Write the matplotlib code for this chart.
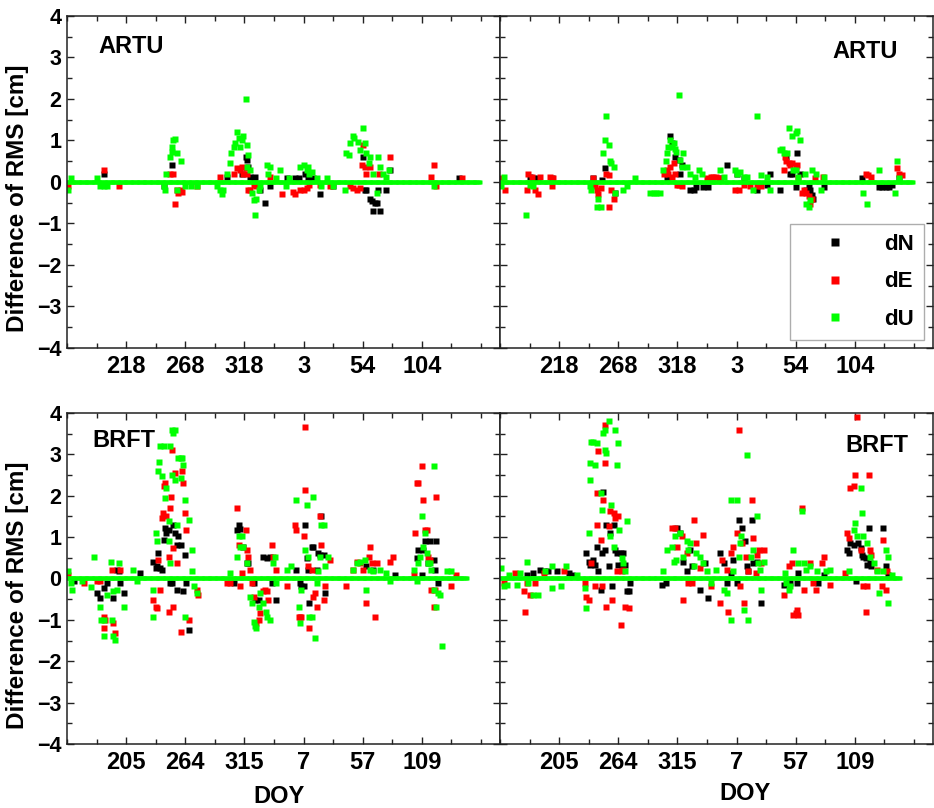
import matplotlib.pyplot as plt
from matplotlib.lines import Line2D
import numpy as np

plt.rcParams['font.family'] = ['Liberation Sans', 'DejaVu Sans']
plt.rcParams['font.weight'] = 'bold'

# x = day counted from start of the campaign, tick labels are the DOY shown
tick_days = [50, 100, 150, 200, 250, 300]
artu_ticks = ['218', '268', '318', '3', '54', '104']
brft_ticks = ['205', '264', '315', '7', '57', '109']

# days with data (value 0 unless listed below)
artu_last_day = 349
brft_last_day = 338

# ARTU, left panel (day, difference in cm)
artu_l_dN = [(31, 0.2), (82, -0.1), (89, 0.4), (135, 0.13), (148, 0.2), (151, 0.6), (152, 0.53),
             (153, 0.37), (155, 0.13), (158, 0.1), (159, 0.13), (163, -0.2), (167, -0.5), (172, -0.1),
             (186, 0.1), (193, 0.1), (196, 0.1), (201, 0.2), (204, 0.1), (208, 0.1), (214, -0.3),
             (225, -0.1), (250, 0.6), (252, -0.2), (253, -0.2), (256, -0.4), (258, -0.45), (259, -0.7),
             (260, -0.5), (262, -0.5), (265, -0.7), (263, -0.2), (270, -0.2), (273, 0.3), (331, 0.1)]
artu_l_dE = [(1, -0.1), (31, 0.3), (44, -0.1), (87, 0.2), (90, 0.2), (91, -0.52), (93, -0.2), (94, -0.27),
             (96, -0.2), (97, -0.23), (110, -0.1), (129, 0.13), (141, 0.2), (144, 0.33), (146, 0.3),
             (148, 0.37), (149, 0.2), (151, 0.33), (152, 0.2), (153, -0.2), (155, -0.2), (158, -0.07),
             (160, -0.1), (172, 0.13), (182, -0.3), (191, -0.23), (193, -0.3), (197, -0.2), (200, -0.2),
             (203, -0.15), (205, -0.07), (214, -0.07), (222, -0.1), (239, -0.1), (242, -0.15), (245, -0.2),
             (248, -0.15), (249, 0.4), (250, 0.9), (252, 0.37), (253, 0.2), (256, 0.37), (264, 0.2),
             (273, 0.6), (308, 0.13), (310, 0.4), (312, -0.1), (334, 0.1)]
artu_l_dU = [(1, -0.2), (3, 0.1), (25, 0.1), (28, -0.1), (31, -0.1), (34, -0.1), (82, -0.1), (83, -0.2),
             (84, 0.2), (87, 0.6), (89, 0.85), (90, 1.0), (91, 1.03), (89, 0.73), (93, 0.7), (96, 0.5),
             (93, -0.2), (100, -0.1), (105, -0.1), (110, -0.1), (127, -0.1), (129, -0.2), (131, -0.3),
             (132, -0.2), (135, 0.2), (138, 0.45), (139, 0.7), (141, 0.85), (142, 0.95), (144, 1.2),
             (145, 1.05), (146, 0.85), (148, 1.0), (149, 1.1), (151, 2.0), (152, 0.9), (153, 0.65),
             (152, 0.37), (155, 0.3), (156, -0.27), (158, -0.43), (159, -0.8), (160, -0.4), (162, -0.2),
             (163, -0.1), (169, 0.4), (172, 0.37), (170, 0.2), (177, 0.1), (180, 0.3), (185, -0.1),
             (188, 0.1), (197, 0.37), (200, 0.4), (203, 0.3), (205, 0.2), (204, 0.37), (207, 0.25),
             (211, 0.1), (215, -0.1), (220, 0.1), (225, -0.1), (235, -0.2), (236, 0.7), (238, 0.65),
             (239, 0.93), (242, 1.1), (243, 1.05), (246, 0.97), (248, 0.77), (250, 1.31), (252, 0.93),
             (253, 0.7), (255, 0.45), (256, 0.6), (259, 0.2), (262, -0.27), (263, 0.6), (265, 0.37),
             (267, 0.2), (270, 0.13), (272, 0.3), (310, -0.1)]

# ARTU, right panel
artu_r_dN = [(25, 0.13), (28, 0.09), (32, 0.09), (44, 0.09), (79, 0.09), (86, 0.05), (89, 0.33),
             (97, -0.27), (141, 0.09), (144, 1.1), (145, 0.93), (148, 0.6), (151, 0.53), (152, 0.2),
             (154, 0.4), (161, -0.2), (164, -0.2), (166, -0.11), (172, -0.11), (176, -0.11), (186, 0.09),
             (192, 0.4), (200, 0.2), (206, 0.09), (217, -0.2), (226, -0.07), (228, 0.2), (237, -0.2),
             (242, 0.6), (245, 0.2), (247, 0.2), (250, -0.11), (251, 0.7), (254, 0.2), (259, -0.2),
             (261, -0.11), (262, -0.2), (264, -0.31), (265, -0.41), (274, -0.11), (306, 0.09),
             (320, -0.11), (323, -0.11), (326, -0.11), (329, -0.11), (331, -0.07), (337, 0.09)]
artu_r_dE = [(1, 0.09), (4, -0.2), (23, -0.2), (24, 0.2), (27, 0.13), (30, -0.2), (32, -0.3), (34, 0.13),
             (42, 0.13), (44, -0.1), (45, 0.09), (79, 0.09), (80, -0.1), (82, -0.2), (83, -0.3),
             (85, -0.15), (90, 0.2), (92, 0.17), (92, -0.6), (94, -0.2), (96, -0.4), (139, 0.2),
             (141, 0.3), (142, 0.2), (144, 0.37), (145, 0.13), (147, 0.45), (148, 0.2), (150, -0.07),
             (151, -0.07), (154, -0.1), (175, 0.09), (178, 0.13), (180, 0.13), (183, 0.13), (186, 0.09),
             (199, -0.2), (202, -0.2), (206, -0.07), (211, -0.1), (217, -0.1), (221, -0.1), (240, 0.3),
             (241, 0.6), (242, 0.5), (244, 0.45), (245, 0.4), (247, 0.45), (250, 0.37), (251, 0.4),
             (252, 0.09), (255, -0.27), (257, -0.2), (259, -0.27), (261, -0.35), (262, -0.52),
             (264, -0.4), (266, 0.09), (273, 0.13), (309, 0.2), (311, 0.17), (314, 0.13), (336, 0.33),
             (337, 0.2), (340, 0.17)]
artu_r_dU = [(1, -0.1), (3, 0.13), (22, -0.8), (25, -0.07), (28, -0.1), (76, -0.1), (77, -0.2),
             (82, -0.6), (83, -0.4), (85, -0.6), (87, 0.7), (89, 1.0), (90, 1.6), (92, 0.9), (93, 0.5),
             (94, 0.45), (96, 0.37), (97, -0.27), (104, -0.2), (107, -0.1), (114, 0.1), (127, -0.27),
             (130, -0.27), (132, -0.27), (135, -0.27), (138, 0.3), (140, 0.5), (141, 0.7), (142, 0.85),
             (144, 1.0), (145, 0.85), (147, 0.93), (148, 0.8), (149, 0.73), (151, 2.1), (152, 0.53),
             (154, 0.37), (155, 0.7), (158, 0.37), (161, 0.2), (165, 0.13), (168, 0.3), (171, 0.2),
             (186, 0.3), (189, 0.13), (199, 0.3), (200, 0.2), (203, 0.25), (206, 0.13), (209, 0.13),
             (214, -0.2), (217, 1.6), (221, 0.17), (226, 0.13), (228, -0.2), (237, 0.77), (238, 0.8),
             (240, 0.7), (243, 0.7), (244, 1.31), (247, 1.1), (248, 0.3), (250, 1.18), (251, 1.22),
             (254, 1.0), (250, 0.3), (252, 0.13), (258, 0.2), (259, -0.52), (261, -0.6), (262, -0.43),
             (264, 0.3), (267, 0.2), (271, -0.2), (274, 0.13), (307, -0.27), (310, -0.52), (320, 0.3),
             (334, -0.27), (336, 0.5), (337, 0.1)]

# BRFT, left panel
brft_l_dN = [(6, -0.07), (25, -0.35), (28, -0.48), (31, -0.23), (34, -0.11), (39, -0.48), (42, 0.21),
             (44, 0.17), (45, -0.11), (48, -0.35), (62, 0.13), (73, 0.41), (75, 0.25), (76, 0.29),
             (77, 0.61), (79, 0.25), (80, 0.21), (82, 0.94), (83, 1.22), (84, 1.1), (86, 1.18),
             (87, -0.11), (89, -0.11), (90, 1.3), (91, 1.1), (93, 0.81), (93, -0.27), (94, 1.02),
             (96, 0.81), (98, -0.31), (100, 0.57), (101, -0.11), (103, -1.24), (141, -0.11), (144, 1.18),
             (145, 1.3), (146, 1.19), (149, 0.77), (152, 0.37), (153, 0.37), (158, -0.11), (159, -0.52),
             (162, -0.52), (166, 0.53), (169, 0.49), (172, 0.53), (173, -0.11), (177, -0.52), (194, 0.21),
             (197, -0.11), (198, -0.19), (200, -0.19), (201, 1.3), (203, 0.49), (204, 0.21), (205, -0.6),
             (207, 0.77), (208, 0.77), (211, 0.21), (212, 0.61), (214, 0.57), (215, 1.5), (217, 0.57),
             (218, -0.35), (253, 0.29), (259, 0.21), (277, 0.09), (296, 0.49), (297, 0.69), (300, 0.09),
             (301, 0.69), (303, 0.9), (305, 0.37), (307, 0.9), (310, 0.45), (311, 0.21), (312, 0.9),
             (314, -0.11)]
brft_l_dE = [(1, 0.09), (14, -0.11), (25, -0.07), (28, -0.07), (31, -0.92), (31, -1.2), (32, -1.0),
             (38, 0.21), (39, -1.08), (41, -1.32), (45, 0.21), (73, -0.52), (75, -0.68), (76, -0.72),
             (77, 0.45), (79, -0.27), (80, 1.46), (81, 1.58), (82, 2.23), (83, 2.31), (84, 1.5), (86, 0.53),
             (87, 1.7), (88, 1.98), (89, 3.11), (90, 0.73), (86, -0.8), (90, -0.68), (91, 2.55), (93, 0.37),
             (96, -1.3), (97, 2.59), (98, 2.31), (100, 1.58), (101, 1.18), (103, -1.0), (110, -0.27),
             (111, -0.4), (135, -0.11), (138, -0.11), (144, 1.7), (145, 0.81), (146, -0.19), (148, 0.13),
             (151, 1.18), (152, 0.69), (153, 0.53), (155, 0.21), (156, -0.11), (158, -0.44), (160, -1.08),
             (162, -1.0), (163, -0.84), (166, -0.31), (167, -0.27), (169, -0.31), (170, -0.52),
             (173, 0.81), (174, 0.53), (177, 0.21), (186, -0.19), (193, 1.3), (194, 1.18), (196, -0.92),
             (197, -0.92), (198, -0.92), (200, 1.02), (201, 2.15), (201, 3.65), (204, 0.29), (205, -1.2),
             (207, 0.21), (208, -0.44), (210, -0.35), (211, -0.68), (214, 1.5), (215, 0.81), (217, -0.52),
             (218, -0.19), (222, 0.45), (236, -0.19), (242, 0.21), (245, 0.41), (248, 0.37), (250, 0.21),
             (253, -0.6), (255, 0.53), (256, 0.77), (258, 0.37), (260, -0.92), (262, 0.37), (273, 0.41),
             (276, 0.53), (293, 0.09), (294, 1.1), (296, 2.31), (297, 2.31), (300, 2.71), (301, 1.9),
             (303, 1.18), (304, 1.18), (305, 0.53), (307, 0.45), (308, -0.27), (310, -0.68), (311, -0.27),
             (312, 1.98), (325, -0.19), (329, 0.09)]
brft_l_dU = [(1, 0.17), (3, -0.11), (4, -0.27), (13, -0.07), (20, -0.2), (23, 0.51), (28, -0.68),
             (29, -1.0), (31, -1.0), (31, -1.4), (34, -0.4), (37, 0.41), (39, -0.31), (38, -1.0),
             (39, -1.4), (41, -1.48), (42, -0.27), (44, 0.37), (48, -0.68), (56, 0.21), (59, -0.07),
             (73, -0.27), (75, 1.1), (76, 0.9), (77, 2.59), (78, 2.81), (79, 3.19), (80, 2.47), (82, 3.19),
             (83, 1.94), (84, 2.19), (86, 1.38), (86, 0.9), (87, 0.37), (87, 3.19), (89, 3.6), (90, 3.52),
             (91, 3.6), (89, 2.51), (91, 2.39), (93, 1.3), (94, 2.91), (96, 2.91), (97, 2.91), (96, 2.43),
             (98, 2.75), (100, 1.9), (103, 1.42), (106, 0.69), (106, 0.17), (107, -0.19), (110, -0.35),
             (73, -0.92), (100, -0.92), (138, 0.13), (144, 0.53), (145, 1.02), (146, 0.77), (148, 1.02),
             (149, 0.77), (152, 0.37), (155, -0.44), (156, -0.6), (158, -1.04), (159, -1.16), (160, -1.2),
             (162, -0.68), (163, -0.35), (166, -0.6), (168, -0.8), (169, -0.92), (172, -1.0), (174, 0.37),
             (176, 0.53), (177, -0.11), (186, 0.21), (189, 0.29), (194, 1.9), (196, -0.68), (197, -1.08),
             (198, -0.27), (201, 0.69), (203, 1.78), (204, 0.53), (205, -0.92), (207, -0.92), (208, 1.98),
             (210, -1.44), (211, -0.11), (212, 0.17), (214, 0.53), (215, 1.3), (217, 1.3), (218, 0.29),
             (221, 0.53), (242, 0.21), (245, 0.37), (248, 0.41), (252, 0.45), (253, -0.27), (256, 0.21),
             (259, 0.17), (265, 0.21), (270, 0.13), (273, -0.07), (293, 0.21), (296, -0.07), (297, 0.37),
             (298, 0.53), (300, 1.5), (301, 0.77), (303, 1.1), (304, 0.61), (305, 0.37), (307, 0.37),
             (308, 0.21), (310, 2.71), (310, -0.27), (312, -0.68), (314, -0.35), (315, -0.4), (317, -1.62),
             (321, 0.17), (325, 0.17)]

# BRFT, right panel
brft_r_dN = [(23, 0.09), (28, 0.13), (34, 0.21), (37, 0.17), (41, 0.17), (48, 0.17), (58, 0.13),
             (61, 0.09), (73, 0.61), (75, 0.41), (76, 0.33), (79, 0.45), (80, 0.33), (82, 0.77), (83, 0.17),
             (85, -0.27), (86, 0.61), (87, 2.1), (89, 0.69), (90, 1.3), (92, 0.29), (93, 1.1), (95, -0.19),
             (96, 1.3), (97, 0.69), (99, 0.61), (100, 0.33), (102, 0.61), (103, 0.33), (104, 0.61),
             (106, 0.33), (107, -0.31), (109, -0.31), (110, -0.11), (137, -0.15), (140, -0.11), (150, 1.22),
             (152, 1.1), (155, 0.41), (158, 0.17), (161, 0.69), (162, 0.29), (169, -0.27), (173, 0.37),
             (176, -0.48), (186, 0.61), (189, 0.37), (192, -0.11), (195, 0.13), (197, 0.45), (200, -0.11),
             (202, 1.42), (205, 1.22), (207, 0.9), (209, 0.29), (210, 0.17), (213, 1.42), (214, 0.37),
             (217, 0.41), (221, -0.6), (240, -0.15), (244, -0.07), (245, -0.11), (251, -0.11), (252, 0.13),
             (269, -0.11), (274, 0.09), (293, 0.69), (295, 0.61), (296, 0.85), (299, 0.81), (301, -0.07),
             (303, 0.85), (305, 0.73), (306, 0.57), (307, 0.53), (309, 0.49), (310, 0.33), (312, 1.22),
             (313, 0.37), (314, 0.29), (324, 1.22), (326, 0.29), (328, 0.09)]
brft_r_dE = [(3, -0.11), (13, 0.13), (20, -0.31), (21, -0.8), (23, -0.11), (25, -0.4), (30, -0.11),
             (37, 0.13), (54, 0.17), (72, -0.11), (73, -0.44), (75, -0.52), (77, 0.37), (80, -0.19),
             (82, 1.3), (82, 2.06), (83, 3.07), (85, 0.94), (86, -0.19), (87, 1.9), (89, 3.72), (89, 2.79),
             (90, -0.68), (92, 1.26), (93, 1.62), (95, -0.52), (96, 1.58), (97, 1.46), (99, 0.17), (100, 1.5),
             (102, -1.12), (103, 0.17), (104, 0.21), (106, -0.68), (109, -0.72), (145, 1.22), (148, 1.22),
             (150, 0.77), (154, 1.02), (155, -0.52), (158, 0.61), (159, -0.11), (162, -0.11), (164, 1.42),
             (166, 0.85), (169, 0.25), (172, 1.06), (178, -0.19), (186, -0.6), (188, 0.45), (192, 0.21),
             (193, -0.8), (195, 0.61), (197, 0.77), (200, 1.1), (202, 3.6), (203, -0.19), (205, 0.85),
             (206, -0.6), (208, 0.53), (210, 0.17), (213, 1.9), (214, 0.98), (216, 0.13), (217, 0.57),
             (219, 0.69), (221, 0.37), (223, 0.69), (240, -0.4), (244, 0.29), (247, 0.37), (248, -0.88),
             (250, -0.84), (251, -0.76), (252, -0.88), (255, 1.7), (257, -0.27), (262, 0.37), (265, -0.11),
             (267, -0.27), (272, 0.37), (274, 0.53), (279, -0.15), (292, 0.13), (293, 1.1), (295, 0.98),
             (296, 2.19), (299, 2.23), (300, 2.51), (302, 3.9), (305, 0.69), (307, -0.19), (309, -0.8),
             (310, -0.19), (312, 2.51), (313, 0.69), (314, 0.57), (319, 0.21), (323, -0.19), (324, 0.94),
             (326, -0.27), (327, 0.17)]
brft_r_dU = [(1, 0.25), (3, -0.19), (6, -0.15), (8, 0.09), (14, -0.15), (17, 0.13), (23, 0.39),
             (24, -0.11), (28, -0.4), (32, -0.4), (38, 0.17), (44, -0.23), (44, 0.31), (52, -0.19),
             (56, 0.31), (65, 0.09), (72, -0.23), (73, -0.72), (75, 1.1), (76, 2.39), (76, 2.79), (77, 3.31),
             (79, 3.31), (80, 2.75), (82, 3.27), (85, 2.06), (86, 1.66), (87, 3.52), (89, 3.11), (89, 3.6),
             (90, 3.03), (92, 3.8), (93, 1.02), (94, 1.78), (96, 0.77), (97, 3.6), (99, 2.75), (100, 3.27),
             (101, 1.18), (103, 0.49), (104, 0.37), (106, 0.17), (107, 1.38), (138, 0.17), (141, 0.69),
             (145, 0.77), (147, 0.41), (148, 1.02), (149, 0.45), (152, 1.1), (155, 0.53), (158, 0.9),
             (159, 0.69), (161, 0.85), (164, 0.29), (166, 0.61), (169, 0.53), (172, 0.37), (175, 0.17),
             (178, -0.11), (183, 0.21), (189, -0.27), (192, -0.35), (195, -1.0), (195, 1.9), (197, 0.17),
             (200, 1.9), (202, 0.53), (203, 0.85), (204, 1.02), (206, -0.76), (209, 2.99), (210, -1.0),
             (212, 0.53), (214, 0.69), (217, 1.5), (218, 0.37), (220, 0.21), (221, -0.27), (223, 0.41),
             (241, 0.13), (242, -0.11), (244, -0.27), (245, -0.19), (248, 0.69), (252, 0.37), (255, 1.62),
             (257, 0.37), (259, 0.21), (262, 0.29), (268, 0.17), (276, 0.17), (279, 0.21), (295, 0.17),
             (299, 1.18), (300, 1.34), (302, 1.02), (305, 2.19), (306, 1.58), (307, 1.02), (310, 0.85),
             (313, 0.53), (316, 0.37), (319, 0.17), (320, -0.35), (324, 0.17), (326, 0.69), (328, 0.53),
             (328, -0.6), (331, 0.09)]

col_dN = 'black'
col_dE = '#ff0000'
col_dU = '#00ff00'
ms = 3.8


def draw_panel(ax, dN, dE, dU, last_day, labels, station, st_x, st_y, left_panel):
    for pts, col in ((dN, col_dN), (dE, col_dE)):
        ax.plot([p[0] for p in pts], [p[1] for p in pts], 's', color=col, ms=ms, mec='none')
    days = np.arange(0, last_day + 1)
    ax.plot(days, np.zeros(len(days)), 's', color=col_dU, ms=3.4, mec='none')
    ax.plot([p[0] for p in dU], [p[1] for p in dU], 's', color=col_dU, ms=ms, mec='none')

    ax.set_xlim(0, 366)
    ax.set_ylim(-4, 4)
    ax.set_xticks(tick_days)
    ax.set_xticklabels(labels)
    ax.set_xticks(np.arange(0, 351, 25), minor=True)
    ax.set_yticks(range(-4, 5))
    ax.set_yticks(np.arange(-4, 4.01, 0.5), minor=True)
    ax.tick_params(which='both', direction='in', top=True, right=True, width=1, color='#222222')
    ax.tick_params(which='major', length=5, pad=5)
    ax.tick_params(axis='x', which='major', labelsize=17)
    ax.tick_params(axis='y', which='major', labelsize=15.5, pad=4)
    ax.tick_params(which='minor', length=3.5)
    if not left_panel:
        ax.set_yticklabels([])
    else:
        ax.set_ylabel('Difference of RMS [cm]', fontsize=17.5, fontweight='bold')
        ax.yaxis.set_label_coords(-0.088, 0.45)
    for sp in ax.spines.values():
        sp.set_linewidth(1.1)
        sp.set_color('#222222')
    ax.text(st_x, st_y, station, transform=ax.transAxes, fontsize=17, fontweight='bold', va='center')


fig = plt.figure(figsize=(9.34, 8.08), dpi=100)
ax1 = fig.add_axes([0.0717, 0.5693, 0.4636, 0.4110])
ax2 = fig.add_axes([0.5353, 0.5693, 0.4636, 0.4110])
ax3 = fig.add_axes([0.0717, 0.0792, 0.4636, 0.4097])
ax4 = fig.add_axes([0.5353, 0.0792, 0.4636, 0.4097])

draw_panel(ax1, artu_l_dN, artu_l_dE, artu_l_dU, artu_last_day, artu_ticks, 'ARTU', 0.072, 0.908, True)
draw_panel(ax2, artu_r_dN, artu_r_dE, artu_r_dU, artu_last_day, artu_ticks, 'ARTU', 0.767, 0.893, False)
draw_panel(ax3, brft_l_dN, brft_l_dE, brft_l_dU, brft_last_day, brft_ticks, 'BRFT', 0.058, 0.917, True)
draw_panel(ax4, brft_r_dN, brft_r_dE, brft_r_dU, brft_last_day, brft_ticks, 'BRFT', 0.797, 0.903, False)

ax3.set_xlabel('DOY', fontsize=17, fontweight='bold')
ax3.xaxis.set_label_coords(0.49, -0.124)
ax4.set_xlabel('DOY', fontsize=17, fontweight='bold')
ax4.xaxis.set_label_coords(0.566, -0.115)

handles = [Line2D([], [], marker='s', ls='none', color=c, ms=6, mec='none') for c in (col_dN, col_dE, col_dU)]
leg = ax2.legend(handles, ['dN', 'dE', 'dU'], loc='lower right', bbox_to_anchor=(0.979, 0.024),
                 borderaxespad=0, fontsize=16, frameon=True, fancybox=False, borderpad=0.45,
                 handlelength=3.2, handletextpad=0.6, labelspacing=0.75)
leg.get_frame().set_edgecolor('#999999')
leg.get_frame().set_linewidth(1.0)
for t in leg.get_texts():
    t.set_fontweight('bold')

plt.savefig('out.png', dpi=100)
